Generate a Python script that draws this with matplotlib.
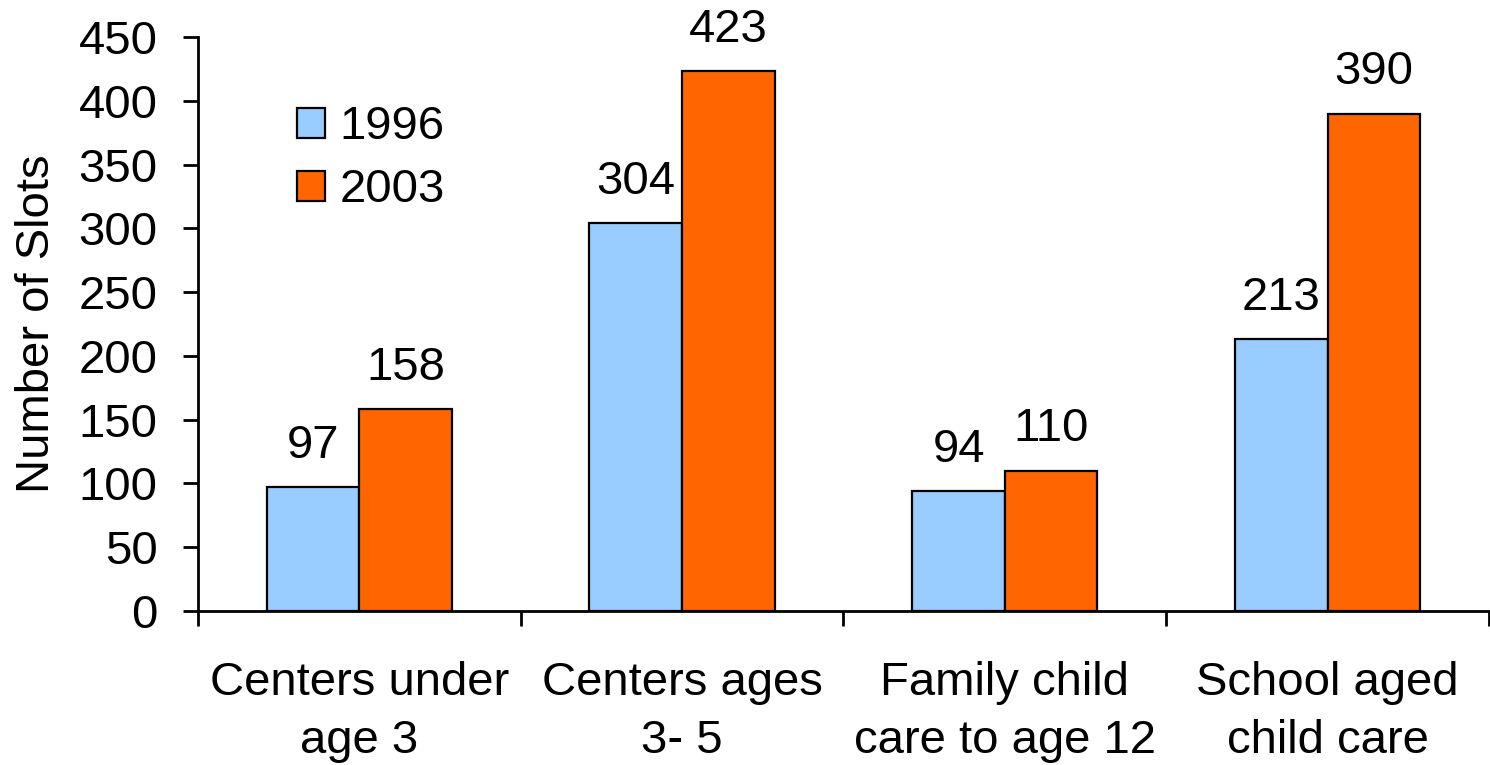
import matplotlib
matplotlib.use("Agg")
import matplotlib.pyplot as plt
import numpy as np

categories = ["Centers under\nage 3", "Centers ages\n3- 5", "Family child\ncare to age 12", "School aged\nchild care"]
series_names = ["1996", "2003"]
values_1996 = [97, 304, 94, 213]
values_2003 = [158, 423, 110, 390]
y_ticks = [0, 50, 100, 150, 200, 250, 300, 350, 400, 450]

plt.rcParams['font.family'] = ['Liberation Sans', 'DejaVu Sans']
FS = 34

fig = plt.figure(figsize=(14.9, 7.65), dpi=100)
ax = fig.add_axes([0.1329, 0.2013, 0.8664, 0.7503])

x = np.arange(len(categories))
w = 0.287
b1 = ax.bar(x - w/2, values_1996, w, color="#99CCFF", edgecolor="black", linewidth=1.6, label=series_names[0])
b2 = ax.bar(x + w/2, values_2003, w, color="#FF6600", edgecolor="black", linewidth=1.6, label=series_names[1])

for bars, vals in ((b1, values_1996), (b2, values_2003)):
    for r, v in zip(bars, vals):
        ax.annotate(str(v), (r.get_x() + r.get_width()/2, v), xytext=(0, 14),
                    textcoords="offset points", ha="center", va="bottom", fontsize=FS)

ax.set_xlim(-0.5, len(categories) - 0.5)
ax.set_ylim(0, 450)
ax.set_yticks(y_ticks)
ax.set_yticklabels([str(t) for t in y_ticks], fontsize=FS)
ax.set_xticks(x)
ax.set_xticklabels(categories, fontsize=FS, linespacing=1.4)
ax.set_xticks(np.arange(-0.5, len(categories)), minor=True)
ax.tick_params(axis="x", which="major", length=0, pad=36)
ax.tick_params(axis="x", which="minor", length=11, width=2, direction="out")
ax.tick_params(axis="y", length=11, width=2, direction="out", pad=18)
ax.set_ylabel("Number of Slots", fontsize=FS, labelpad=14)

for s in ("top", "right"):
    ax.spines[s].set_visible(False)
for s in ("left", "bottom"):
    ax.spines[s].set_linewidth(2)

ax.legend(loc="upper left", bbox_to_anchor=(0.062, 0.914), frameon=False, fontsize=FS,
          handlelength=0.6, handleheight=0.6, handletextpad=0.3, labelspacing=0.4,
          borderaxespad=0)

fig.savefig("out.png", dpi=100)
